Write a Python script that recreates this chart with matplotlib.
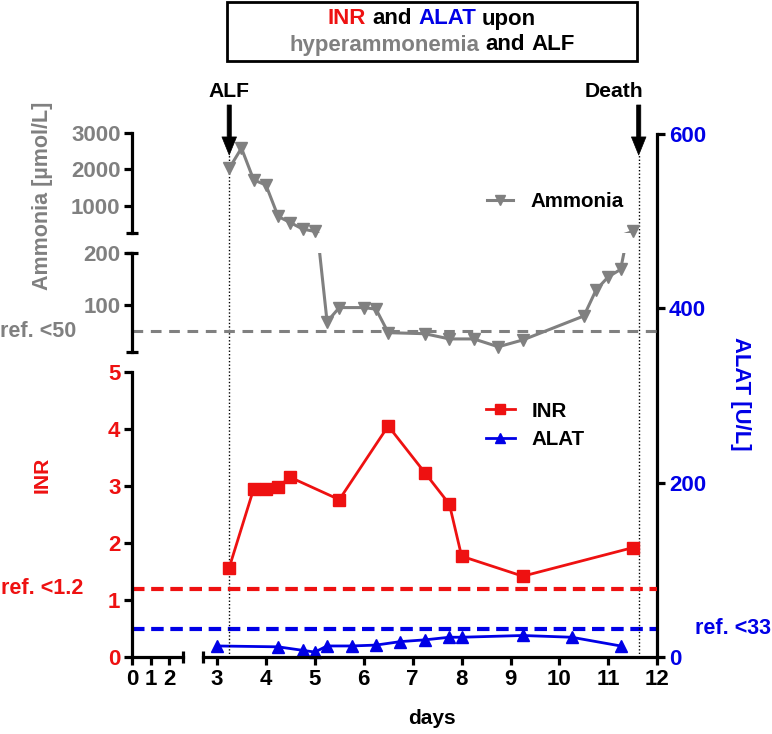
import numpy as np
import matplotlib
matplotlib.use('Agg')
import matplotlib.pyplot as plt
from matplotlib.patches import Rectangle
from matplotlib.offsetbox import TextArea, HPacker, AnnotationBbox

plt.rcParams['font.family'] = ['Liberation Sans', 'DejaVu Sans']
plt.rcParams['font.weight'] = 'bold'
plt.rcParams['font.size'] = 15.5
plt.rcParams['xtick.labelsize'] = 16
plt.rcParams['ytick.labelsize'] = 16

RED = '#ee1111'
BLUE = '#0000e6'
GRAY = '#808080'

# ---- data ----
nh3_days = np.array([3.25, 3.5, 3.75, 4.0, 4.25, 4.5, 4.75, 5.0, 5.25, 5.5, 6.0, 6.25,
                     6.5, 7.25, 7.75, 8.25, 8.75, 9.25, 10.5, 10.75, 11.0, 11.25, 11.5])
nh3 = np.array([2030, 2590, 1710, 1570, 700, 530, 350, 285, 68, 95, 95, 92,
                47, 45, 35, 35, 20, 33, 79, 129, 154, 168, 285])

inr_days = [3.25, 3.75, 4.0, 4.25, 4.5, 5.5, 6.5, 7.25, 7.75, 8.0, 9.25, 11.5]
inr = [1.57, 2.95, 2.95, 2.99, 3.15, 2.76, 4.05, 3.23, 2.68, 1.77, 1.42, 1.92]

alat_days = [3.0, 4.25, 4.75, 5.0, 5.25, 5.75, 6.25, 6.75, 7.25, 7.75, 8.0, 9.25, 10.25, 11.25]
alat = [13, 12, 8, 6, 13, 13, 14, 18, 20, 23, 23, 25, 23, 13]

ref_nh3, ref_inr, ref_alat = 50, 1.2, 33
events = ['ALF', 'Death']
event_days = [3.25, 11.62]

# ---- layout in pixels ----
W, H = 772, 734
X0, XB1, XB2, X3, XR = 132.3, 182.7, 202.7, 217.0, 657.3
PPD = (XR - X3) / 9.0
XLO = 3 - (X3 - X0) / PPD
LEFT_END = (XB1 - X0) / 18.5
RIGHT_START = 3 - (X3 - XB2) / PPD
YBOT = 657.3
ALAT_TOP = 134.0


def box(x0, y0, x1, y1):
    return [x0 / W, 1 - y1 / H, (x1 - x0) / W, (y1 - y0) / H]


def bare(ax):
    ax.set_facecolor('none')
    for s in ax.spines.values():
        s.set_visible(False)
        s.set_linewidth(2.3)


fig = plt.figure(figsize=(W / 100, H / 100), dpi=100)

ax_alat = fig.add_axes(box(X0, ALAT_TOP, XR, YBOT))
ax_inr = fig.add_axes(box(X0, 371.7, XR, YBOT))
ax_hi = fig.add_axes(box(X0, 133.3, XR, 232.7))
ax_lo = fig.add_axes(box(X0, 252.7, XR, 352.0))
ax_xl = fig.add_axes(box(X0, 371.7, XB1, YBOT))
ax_xr = fig.add_axes(box(XB2, 371.7, XR, YBOT))

for ax in (ax_alat, ax_inr, ax_hi, ax_lo, ax_xl, ax_xr):
    bare(ax)
    ax.tick_params(width=2.3, length=6, pad=2.5)
    ax.tick_params(which='minor', width=2.3, length=9, direction='inout')
for ax in (ax_alat, ax_inr, ax_hi, ax_lo):
    ax.set_xlim(XLO, 12)
    ax.xaxis.set_visible(False)
for ax in (ax_xl, ax_xr):
    ax.yaxis.set_visible(False)

# ammonia, upper segment
ax_hi.set_ylim(250, 3000)
ax_hi.spines['left'].set_visible(True)
ax_hi.set_yticks([1000, 2000, 3000])
ax_hi.set_yticks([250], minor=True)
ax_hi.tick_params(axis='y', labelcolor=GRAY)
# ammonia, lower segment
ax_lo.set_ylim(10, 200)
ax_lo.spines['left'].set_visible(True)
ax_lo.yaxis.remove_overlapping_locs = False
ax_lo.set_yticks([100, 200])
ax_lo.set_yticks([10, 200], minor=True)
ax_lo.tick_params(axis='y', labelcolor=GRAY)

hi = nh3 >= 250
lo = ~hi
for ax, m in ((ax_hi, hi), (ax_lo, lo)):
    nh3_line, = ax.plot(nh3_days, nh3, color=GRAY, lw=2.2)
    nh3_mark, = ax.plot(nh3_days[m], nh3[m], 'v', color=GRAY, ms=8, clip_on=False)
ax_lo.axhline(ref_nh3, color=GRAY, lw=2.2, ls=(0, (3.5, 2.5)))

# INR
ax_inr.set_ylim(0, 5)
ax_inr.spines['left'].set_visible(True)
ax_inr.set_yticks(range(6))
ax_inr.tick_params(axis='y', labelcolor=RED)
inr_line, = ax_inr.plot(inr_days, inr, '-s', color=RED, lw=2, ms=8, clip_on=False)
ax_inr.axhline(ref_inr, color=RED, lw=3, ls=(0, (3, 1.6)))

# ALAT (right axis)
ax_alat.set_ylim(0, 600)
ax_alat.spines['right'].set_visible(True)
ax_alat.yaxis.tick_right()
ax_alat.set_yticks([0, 200, 400, 600])
ax_alat.tick_params(axis='y', labelcolor=BLUE)
alat_line, = ax_alat.plot(alat_days, alat, '-^', color=BLUE, lw=2, ms=8, clip_on=False)
ax_alat.axhline(ref_alat, color=BLUE, lw=3, ls=(0, (3, 1.6)))

# broken x axis
ax_xl.set_xlim(0, LEFT_END)
ax_xl.spines['bottom'].set_visible(True)
ax_xl.set_xticks([0, 1, 2])
ax_xl.set_xticks([LEFT_END], minor=True)
ax_xr.set_xlim(RIGHT_START, 12)
ax_xr.spines['bottom'].set_visible(True)
ax_xr.set_xticks(range(3, 13))
ax_xr.set_xticks([RIGHT_START], minor=True)


def yfrac(py):
    return (YBOT - py) / (YBOT - ALAT_TOP)


# events: dotted lines and arrows
trans = ax_alat.get_xaxis_transform()
for name, d, tx in zip(events, event_days, [228.8, 613.8]):
    ax_alat.axvline(d, ymin=0, ymax=yfrac(155), color='k', lw=1, ls=(0, (1, 1.5)))
    ax_alat.annotate('', xy=(d, yfrac(155)), xycoords=trans,
                     xytext=(d, yfrac(105)), textcoords=trans,
                     arrowprops=dict(facecolor='k', edgecolor='k', lw=0.5,
                                     width=3, headwidth=10.5, headlength=13, shrink=0))
    fig.text(tx / W, 1 - 91.7 / H, name, ha='center', va='center', fontsize=15.2)

# reference labels
ax_lo.annotate('ref. <50', xy=(0, ref_nh3), xycoords=ax_lo.get_yaxis_transform(),
               xytext=(76 - X0, 0), textcoords='offset pixels',
               ha='right', va='center', color=GRAY)
ax_inr.annotate('ref. <1.2', xy=(0, ref_inr), xycoords=ax_inr.get_yaxis_transform(),
                xytext=(83 - X0, 0), textcoords='offset pixels',
                ha='right', va='center', color=RED)
ax_alat.annotate('ref. <33', xy=(1, ref_alat), xycoords=ax_alat.get_yaxis_transform(),
                 xytext=(695 - XR, 0), textcoords='offset pixels',
                 ha='left', va='center', color=BLUE)

# axis titles
fig.text(43 / W, 1 - 196 / H, 'Ammonia [µmol/L]', rotation=90, ha='center', va='center',
         color=GRAY, fontsize=15.5)
fig.text(42 / W, 1 - 475 / H, 'INR', rotation=90, ha='center', va='center', color=RED, fontsize=15.2)
fig.text(741 / W, 1 - 394 / H, 'ALAT [U/L]', rotation=270, ha='center', va='center',
         color=BLUE, fontsize=15.8)
fig.text(432 / W, 1 - 718 / H, 'days', ha='center', va='center', fontsize=15)

# legends
legend_font = dict(size=14.8, weight='bold')
ax_hi.legend([(nh3_line, nh3_mark)], ['Ammonia'], loc='center left', prop=legend_font,
             bbox_to_anchor=(486.7 / W, 1 - 201.7 / H), bbox_transform=fig.transFigure,
             frameon=False, borderpad=0, borderaxespad=0, handlelength=1.3,
             handletextpad=0.85, markerscale=0.85)
ax_inr.legend([inr_line, alat_line], ['INR', 'ALAT'], loc='center left', prop=legend_font,
              bbox_to_anchor=(486.0 / W, 1 - 425.3 / H), bbox_transform=fig.transFigure,
              frameon=False, borderpad=0, borderaxespad=0, handlelength=1.4,
              handletextpad=0.8, labelspacing=0.45, markerscale=0.85)

# title box
fig.add_artist(Rectangle((227 / W, 1 - 61 / H), 410 / W, 59 / H, transform=fig.transFigure,
                         fill=False, edgecolor='k', lw=2))
rows = [
    ([('INR', RED), ('and', 'k'), ('ALAT', BLUE), ('upon', 'k')], 19),
    ([('hyperammonemia', GRAY), ('and', 'k'), ('ALF', 'k')], 45),
]
for parts, py in rows:
    pack = HPacker(children=[TextArea(s, textprops=dict(color=c, fontsize=16, fontweight='bold'))
                             for s, c in parts], sep=4.4, pad=0, align='baseline')
    fig.add_artist(AnnotationBbox(pack, (432 / W, 1 - py / H), xycoords='figure fraction',
                                  frameon=False, box_alignment=(0.5, 0.5), pad=0))

fig.savefig('out.png', dpi=100)
